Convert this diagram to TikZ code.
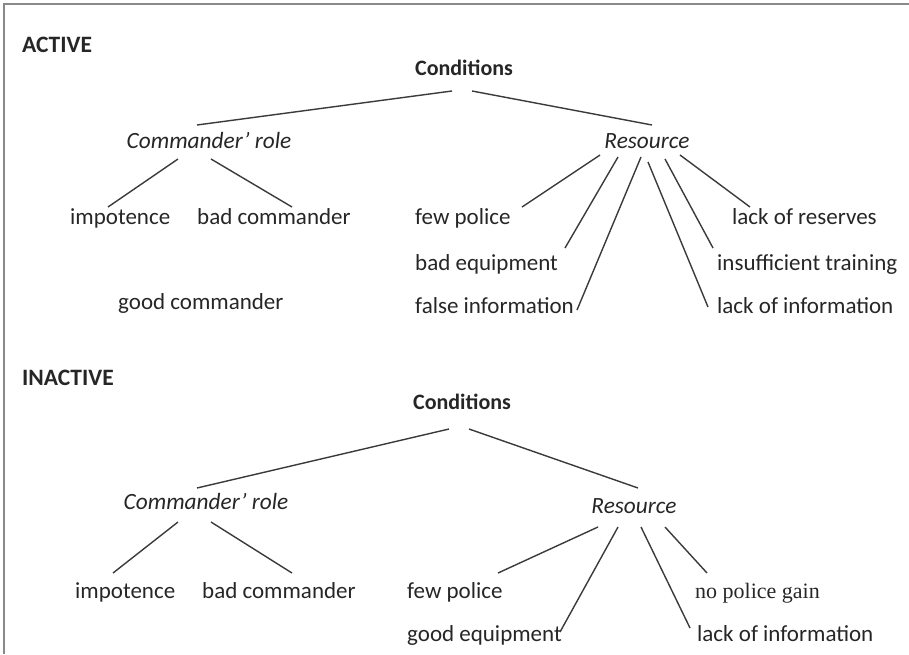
\documentclass[tikz,border=0pt]{standalone}
\usepackage{fontspec}
\setmainfont{Carlito}
\newfontfamily\serifgain{Liberation Serif}
\definecolor{txtgray}{HTML}{262626}
\definecolor{linegray}{HTML}{3A3A3A}
\definecolor{framegray}{HTML}{8A8A8A}
\tikzset{
  leaf/.style={inner sep=0, anchor=base west, text=txtgray, font=\fontsize{23}{27}\selectfont},
  head/.style={inner sep=0, anchor=base, text=txtgray, font=\fontsize{22}{26}\selectfont\bfseries},
  branch/.style={inner sep=0, anchor=base, text=txtgray, font=\fontsize{23.3}{27}\selectfont\itshape},
  mode/.style={inner sep=0, anchor=base west, text=txtgray, font=\fontsize{23.5}{27}\selectfont\bfseries},
  edge/.style={draw=linegray, line width=1.4pt}
}
\begin{document}
\begin{tikzpicture}[x=1pt,y=-1pt]
\useasboundingbox (0,0) rectangle (909,654);
\draw[framegray, line width=1.5pt] (4,654) -- (4,4) -- (909,4);
% active
\node[mode] (actA) at (22,52) {ACTIVE};
\node[head] (conA) at (464,75) {Conditions};
\node[branch] (cmdA) at (209,148) {Commander' role};
\node[branch] (resA) at (647,148) {Resource};
\node[leaf] (impA) at (70,224) {impotence};
\node[leaf] (badA) at (197,224) {bad commander};
\node[leaf] (goodA) at (118,309) {good commander};
\node[leaf] (fewA) at (415,224) {few police};
\node[leaf] (beqA) at (415,270) {bad equipment};
\node[leaf] (fiA) at (415,313) {false information};
\node[leaf] (lrA) at (732,224) {lack of reserves};
\node[leaf] (itA) at (717,270) {insufficient training};
\node[leaf] (liA) at (717,313) {lack of information};
\draw[edge] ([shift={(-12,16)}]conA.base) -- ([shift={(-12,-23)}]cmdA.base);
\draw[edge] ([shift={(8,16)}]conA.base) -- ([shift={(5,-23)}]resA.base);
\draw[edge] ([shift={(-31,11)}]cmdA.base) -- ([shift={(38,-17)}]impA.base west);
\draw[edge] ([shift={(2,11)}]cmdA.base) -- ([shift={(95,-17)}]badA.base west);
\draw[edge] ([shift={(-47,7)}]resA.base) -- ([shift={(107,-17)}]fewA.base west);
\draw[edge] ([shift={(-29,9)}]resA.base) -- ([shift={(150,-22)}]beqA.base west);
\draw[edge] ([shift={(-6,9)}]resA.base) -- ([shift={(162,-3)}]fiA.base west);
\draw[edge] ([shift={(1,14)}]resA.base) -- ([shift={(-9,-6)}]liA.base west);
\draw[edge] ([shift={(18,11)}]resA.base) -- ([shift={(-4,-22)}]itA.base west);
\draw[edge] ([shift={(33,7)}]resA.base) -- ([shift={(18,-17)}]lrA.base west);
% inactive
\node[mode] (actB) at (22,385) {INACTIVE};
\node[head] (conB) at (462,409) {Conditions};
\node[branch] (cmdB) at (206,509) {Commander' role};
\node[branch] (resB) at (634,513) {Resource};
\node[leaf] (impB) at (75,598) {impotence};
\node[leaf] (badB) at (202,598) {bad commander};
\node[leaf] (fewB) at (407,598) {few police};
\node[leaf] (geB) at (407,641) {good equipment};
\node[leaf, font=\fontsize{22}{26}\serifgain] (npB) at (695,598) {no police gain};
\node[leaf] (liB) at (697,641) {lack of information};
\draw[edge] ([shift={(-13,20)}]conB.base) -- ([shift={(-9,-21)}]cmdB.base);
\draw[edge] ([shift={(7,20)}]conB.base) -- ([shift={(4,-25)}]resB.base);
\draw[edge] ([shift={(-28,13)}]cmdB.base) -- ([shift={(38,-25)}]impB.base west);
\draw[edge] ([shift={(5,13)}]cmdB.base) -- ([shift={(90,-25)}]badB.base west);
\draw[edge] ([shift={(-36,14)}]resB.base) -- ([shift={(91,-25)}]fewB.base west);
\draw[edge] ([shift={(-16,14)}]resB.base) -- ([shift={(153,-9)}]geB.base west);
\draw[edge] ([shift={(7,14)}]resB.base) -- ([shift={(-7,-13)}]liB.base west);
\draw[edge] ([shift={(31,14)}]resB.base) -- ([shift={(12,-25)}]npB.base west);
\end{tikzpicture}
\end{document}
